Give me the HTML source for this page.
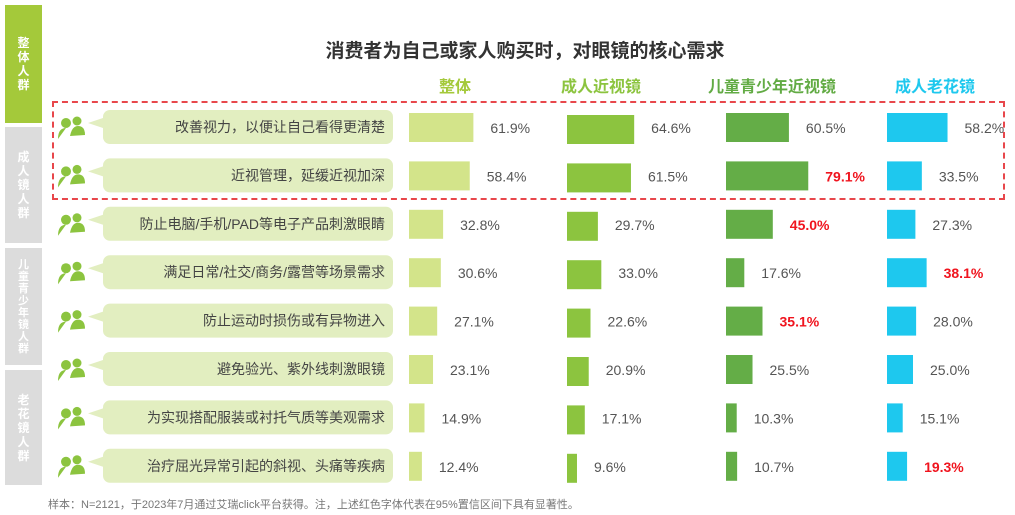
<!DOCTYPE html>
<html><head><meta charset="utf-8">
<style>
body{margin:0;background:#fff;font-family:"Liberation Sans","Noto Sans CJK SC",sans-serif;}
#wrap{position:relative;width:1015px;height:515px;overflow:hidden;background:#fff;}
.side{position:absolute;left:5px;width:37px;color:#fff;font-size:12px;font-weight:bold;display:flex;align-items:center;justify-content:center;text-align:center;line-height:14px;}
.hdr{position:absolute;top:73px;font-size:16px;font-weight:bold;transform:translateX(-50%);white-space:nowrap;}
</style></head><body>
<div id="wrap">
<div class="side" style="top:5px;height:118px;background:#a4c93a;">整<br>体<br>人<br>群</div>
<div class="side" style="top:127px;height:116px;background:#dcdcdc;">成<br>人<br>镜<br>人<br>群</div>
<div class="side" style="top:248px;height:117px;background:#dcdcdc;font-size:11px;line-height:12px;">儿<br>童<br>青<br>少<br>年<br>镜<br>人<br>群</div>
<div class="side" style="top:370px;height:115px;background:#dcdcdc;">老<br>花<br>镜<br>人<br>群</div>
<div style="position:absolute;top:36px;left:300px;width:450px;text-align:center;font-size:19px;font-weight:bold;color:#333;">消费者为自己或家人购买时，对眼镜的核心需求</div>
<div class="hdr" style="left:455px;color:#a4c93a;">整体</div>
<div class="hdr" style="left:601px;color:#8cc43f;">成人近视镜</div>
<div class="hdr" style="left:772px;color:#62ab44;">儿童青少年近视镜</div>
<div class="hdr" style="left:935px;color:#1ec8ee;">成人老花镜</div>
<div style="position:absolute;left:52px;top:101px;width:953px;height:99px;border:2px dashed #e8474b;box-sizing:border-box;"></div>
<svg id="svg" width="1015" height="515" style="position:absolute;left:0;top:0;"></svg>
<div style="position:absolute;left:48px;top:496px;font-size:11px;color:#777;">样本：N=2121，于2023年7月通过艾瑞click平台获得。注，上述红色字体代表在95%置信区间下具有显著性。</div>
</div>
<script>
const categories=["改善视力，以便让自己看得更清楚","近视管理，延缓近视加深","防止电脑/手机/PAD等电子产品刺激眼睛","满足日常/社交/商务/露营等场景需求","防止运动时损伤或有异物进入","避免验光、紫外线刺激眼镜","为实现搭配服装或衬托气质等美观需求","治疗屈光异常引起的斜视、头痛等疾病"];
const seriesNames=["整体","成人近视镜","儿童青少年近视镜","成人老花镜"];
const overall=[61.9,58.4,32.8,30.6,27.1,23.1,14.9,12.4];
const adultMyopia=[64.6,61.5,29.7,33.0,22.6,20.9,17.1,9.6];
const childMyopia=[60.5,79.1,45.0,17.6,35.1,25.5,10.3,10.7];
const presbyopia=[58.2,33.5,27.3,38.1,28.0,25.0,15.1,19.3];
const significant=[[],[],[1,2,4],[3,7]];
const series=[overall,adultMyopia,childMyopia,presbyopia];
const colors=["#d3e48a","#8cc43f","#64ad47","#1ec8ee"];
const colX=[409,567,726,887];
const NS="http://www.w3.org/2000/svg";
const svg=document.getElementById('svg');
function xScale(v){return v*1.04;}
function rowY(i){return 127+i*48.4;}
function mk(t,a){const e=document.createElementNS(NS,t);for(const k in a)e.setAttribute(k,a[k]);svg.appendChild(e);return e;}
categories.forEach((c,i)=>{
  const y=rowY(i);
  const g=mk('g',{});
  
  
  const ic=[['circle',{cx:66,cy:y-4,r:5}],['circle',{cx:77,cy:y-6,r:4.5}],['path',{d:`M58 ${y+12} Q58 ${y+1} 66 ${y+1} Q74 ${y+1}74 ${y+12} Z`}],['path',{d:`M70 ${y+9} Q72 ${y-1} 78 ${y-1} Q85 ${y-1} 85 ${y+8} Z`}]];
  ic.forEach(([t,a])=>{const e=document.createElementNS(NS,t);for(const k in a)e.setAttribute(k,a[k]);e.setAttribute('fill','#8cc43f');g.appendChild(e);});
  svg.appendChild(g);
  const tail=mk('path',{d:`M88 ${y-4} L106 ${y-10} L106 ${y+2} Z`,fill:'#e2eec0'});
  
  
  const b=mk('rect',{x:103,y:y-17,width:290,height:34,rx:7,fill:'#e2eec0'});
  
  
  const t=mk('text',{x:385,y:y+5,'text-anchor':'end','font-size':14,fill:'#444'});
  t.textContent=c;
  
  
  series.forEach((s,j)=>{
    const w=xScale(s[i]);
    const r=mk('rect',{x:colX[j],y:y-14+(j==1?2:0),width:w,height:29,fill:colors[j]});
    
    
    const red=significant[j].includes(i);
    const l=mk('text',{x:colX[j]+w+17,y:y+6,'font-size':14,fill:red?'#f0141e':'#555','font-weight':red?'bold':'normal'});
    l.textContent=s[i].toFixed(1)+'%';
    
    
  });
});
</script>
</body></html>
